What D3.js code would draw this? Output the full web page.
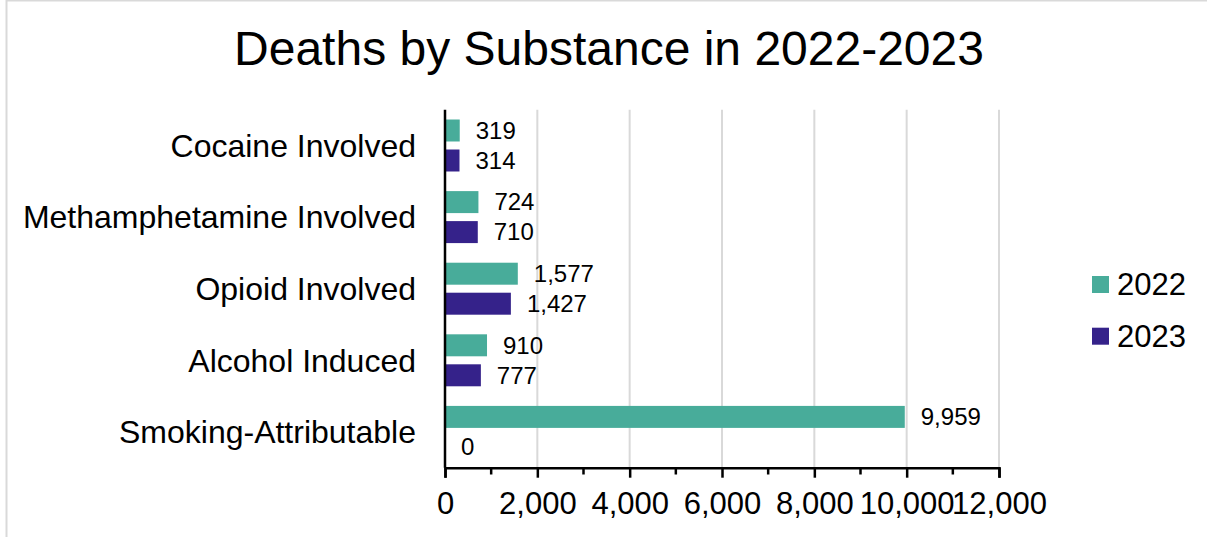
<!DOCTYPE html>
<html>
<head>
<meta charset="utf-8">
<script src="https://cdn.jsdelivr.net/npm/d3@7"></script>
<style>
  body { margin: 0; background: #fff; }
  svg { font-family: 'Liberation Sans', Arial, sans-serif; }
</style>
</head>
<body>
<svg></svg>
<script>
let width = 1207;
let height = 537;

let categories = [
  'Cocaine Involved',
  'Methamphetamine Involved',
  'Opioid Involved',
  'Alcohol Induced',
  'Smoking-Attributable',
];
let years = ['2022', '2023'];
let values2022 = [319, 724, 1577, 910, 9959];
let values2023 = [314, 710, 1427, 777, 0];
let xTicks = [0, 2000, 4000, 6000, 8000, 10000, 12000];
let colors = { 2022: '#48ac9a', 2023: '#35228a' };

let rows = categories.map((c, i) => ({
  category: c,
  values: [
    { year: '2022', value: values2022[i] },
    { year: '2023', value: values2023[i] },
  ],
}));

let svg = d3.select('svg').attr('width', width).attr('height', height);

// outer frame
svg
  .append('rect')
  .attr('x', 6.5)
  .attr('y', 0.5)
  .attr('width', width + 10)
  .attr('height', height + 10)
  .attr('fill', 'none')
  .attr('stroke', '#d9d9d9')
  .attr('stroke-width', 2);

svg
  .append('text')
  .attr('x', 609)
  .attr('y', 65)
  .attr('text-anchor', 'middle')
  .attr('font-size', 48)
  .attr('fill', '#000')
  .text('Deaths by Substance in 2022-2023');

let x = d3.scaleLinear().domain([0, 12000]).range([445, 999]);
let y = d3.scaleBand().domain(categories).range([109.7, 467.7]);
let sub = d3
  .scaleBand()
  .domain(years)
  .range([0, y.bandwidth()])
  .paddingInner(0.267)
  .paddingOuter(0.327);

// gridlines
svg
  .append('g')
  .selectAll('line')
  .data(xTicks.slice(1))
  .enter()
  .append('line')
  .attr('x1', (d) => x(d))
  .attr('x2', (d) => x(d))
  .attr('y1', 109.7)
  .attr('y2', 467.7)
  .attr('stroke', '#d9d9d9')
  .attr('stroke-width', 2);

let groups = svg
  .append('g')
  .selectAll('g')
  .data(rows)
  .enter()
  .append('g')
  .attr('transform', (d) => `translate(0,${y(d.category)})`);

groups
  .selectAll('rect')
  .data((d) => d.values)
  .enter()
  .append('rect')
  .attr('x', x(0))
  .attr('y', (d) => sub(d.year))
  .attr('width', (d) => x(d.value) - x(0))
  .attr('height', sub.bandwidth())
  .attr('fill', (d) => colors[d.year]);

groups
  .selectAll('text')
  .data((d) => d.values)
  .enter()
  .append('text')
  .attr('x', (d) => x(d.value) + 16)
  .attr('y', (d) => sub(d.year) + sub.bandwidth() / 2)
  .attr('dy', '0.35em')
  .attr('font-size', 24)
  .attr('fill', '#000')
  .text((d) => d3.format(',')(d.value));

// category labels
svg
  .append('g')
  .selectAll('text')
  .data(categories)
  .enter()
  .append('text')
  .attr('x', 416)
  .attr('y', (d) => y(d) + y.bandwidth() / 2)
  .attr('dy', '0.35em')
  .attr('text-anchor', 'end')
  .attr('font-size', 32)
  .attr('fill', '#000')
  .text((d) => d);

// x axis
let xAxis = svg
  .append('g')
  .attr('transform', 'translate(0,467.7)')
  .call(
    d3
      .axisBottom(x)
      .tickValues(xTicks)
      .tickSize(10)
      .tickPadding(14)
      .tickFormat(d3.format(','))
  );
xAxis.select('.domain').attr('stroke', '#000').attr('stroke-width', 2.5);
xAxis.selectAll('.tick line').attr('stroke', '#000').attr('stroke-width', 2.5);
xAxis
  .selectAll('.tick text')
  .attr('font-size', 31)
  .attr('font-family', "'Liberation Sans', Arial, sans-serif")
  .attr('fill', '#000');

// minor ticks
svg
  .append('g')
  .selectAll('line')
  .data(d3.range(1000, 12000, 2000))
  .enter()
  .append('line')
  .attr('x1', (d) => x(d))
  .attr('x2', (d) => x(d))
  .attr('y1', 467.7)
  .attr('y2', 474.5)
  .attr('stroke', '#000')
  .attr('stroke-width', 2.5);

// y axis line
svg
  .append('line')
  .attr('x1', x(0))
  .attr('x2', x(0))
  .attr('y1', 109.7)
  .attr('y2', 467.7)
  .attr('stroke', '#000')
  .attr('stroke-width', 2.5);

// legend
let legend = svg
  .append('g')
  .selectAll('g')
  .data(years)
  .enter()
  .append('g')
  .attr('transform', (d, i) => `translate(1092,${276 + i * 51.7})`);

legend
  .append('rect')
  .attr('width', 17)
  .attr('height', 17)
  .attr('fill', (d) => colors[d]);

legend
  .append('text')
  .attr('x', 25)
  .attr('y', 8.5)
  .attr('dy', '0.35em')
  .attr('font-size', 31)
  .attr('fill', '#000')
  .text((d) => d);
</script>
</body>
</html>
